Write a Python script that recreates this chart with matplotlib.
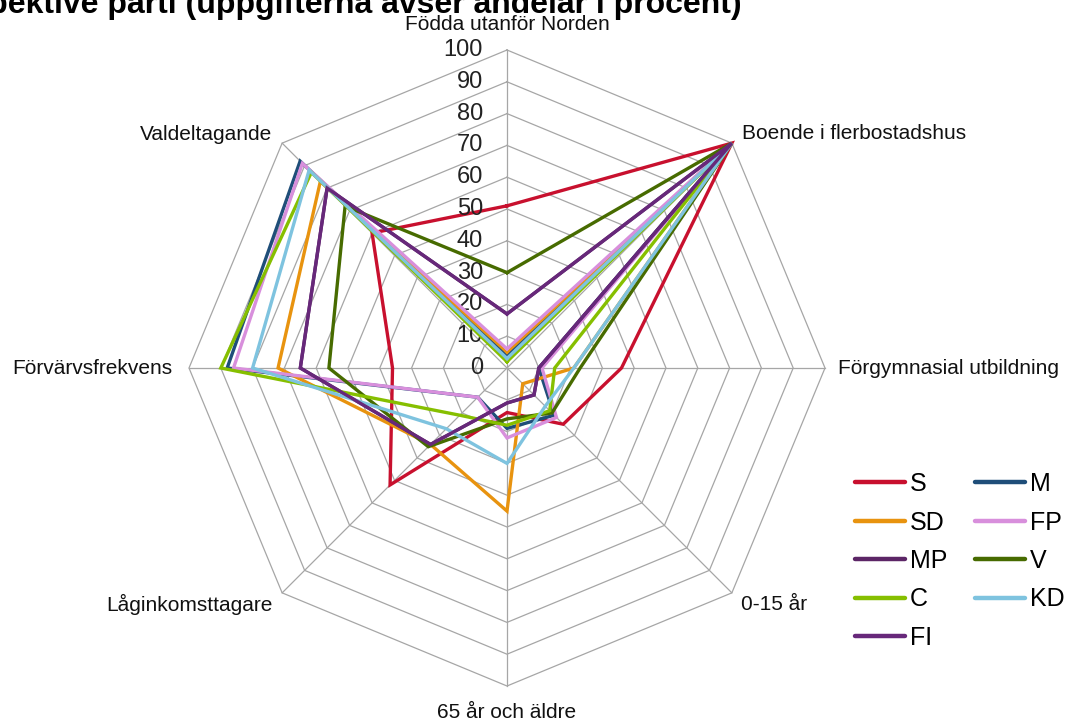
import numpy as np
import matplotlib
matplotlib.use("Agg")
import matplotlib.pyplot as plt
from matplotlib.lines import Line2D

plt.rcParams['font.family'] = ['Liberation Sans', 'DejaVu Sans']

# ---- data ----
categories = ["Födda utanför Norden", "Boende i flerbostadshus", "Förgymnasial utbildning",
              "0-15 år", "65 år och äldre", "Låginkomsttagare", "Förvärvsfrekvens", "Valdeltagande"]
ticks = [0, 10, 20, 30, 40, 50, 60, 70, 80, 90, 100]

S  = [51, 100, 36, 25, 14, 52, 36, 60]
M  = [4, 100, 10, 21, 19, 13, 88, 92]
SD = [5, 100, 21, 7, 45, 34, 72, 83]
FP = [6, 100, 11, 22, 22, 13, 86, 91]
MP = [17, 100, 10, 12, 11, 34, 65, 80]
V  = [30, 100, 23, 20, 16, 35, 56, 72]
C  = [2, 100, 15, 19, 18, 21, 90, 87]
KD = [3, 100, 21, 17, 30, 27, 80, 88]
FI = [17, 100, 10, 12, 11, 34, 65, 80]

series = [("S", S, "#c8102e"), ("M", M, "#1f4e79"), ("SD", SD, "#e8930f"),
          ("FP", FP, "#d88fdc"), ("MP", MP, "#5c2566"), ("V", V, "#476b00"),
          ("C", C, "#86bf00"), ("KD", KD, "#7ec3df"), ("FI", FI, "#67287a")]
legend_order = ["S", "SD", "MP", "C", "FI", "M", "FP", "V", "KD"]

title = "Väljarprofil för respektive parti (uppgifterna avser andelar i procent)"

# ---- figure ----
fig = plt.figure(figsize=(10.67, 7.22), dpi=100)
ax = fig.add_axes([189/1067, 36/722, 636/1067, 636/722], projection='polar')
ax.set_theta_zero_location('N')
ax.set_theta_direction(-1)
ax.set_ylim(0, 100)
ax.axis('off')

n = len(categories)
angles = np.arange(n) * 2 * np.pi / n
ang_c = np.append(angles, angles[0])

grid_col = "#a6a6a6"
for r in ticks[1:]:
    ax.plot(ang_c, [r] * (n + 1), color=grid_col, lw=0.9, zorder=1, clip_on=False)
for a in angles:
    ax.plot([a, a], [0, 100], color=grid_col, lw=0.9, zorder=1, clip_on=False)

handles = {}
for i, (name, vals, col) in enumerate(series):
    v = np.append(vals, vals[0])
    ax.plot(ang_c, v, color=col, lw=2.4, zorder=3 + i, clip_on=False,
            solid_joinstyle='miter')
    handles[name] = Line2D([], [], color=col, lw=3.2, solid_capstyle='round')

for t in ticks:
    ax.annotate(str(t), xy=(0, t), xytext=(-24, 0), textcoords='offset pixels',
                ha='right', va='center', fontsize=17, color='#222222',
                annotation_clip=False)

offsets = [(0, 26, 'center', 'center'), (10, 10, 'left', 'center'), (13, 0, 'left', 'center'),
           (9, -12, 'left', 'center'), (0, -27, 'center', 'center'), (-10, -12, 'right', 'center'),
           (-17, 0, 'right', 'center'), (-10, 9, 'right', 'center')]
for a, lab, (dx, dy, ha, va) in zip(angles, categories, offsets):
    ax.annotate(lab, xy=(a, 100), xytext=(dx, dy), textcoords='offset pixels',
                ha=ha, va=va, fontsize=15, color='#111111', annotation_clip=False)

fig.text(742/1067, 1 - 13/722, title, ha='right', va='baseline', fontsize=23,
         fontweight='bold', color='black')

leg = fig.legend([handles[k] for k in legend_order], legend_order, ncol=2,
                 loc='upper left', bbox_to_anchor=(855/1067, 1 - 472/722),
                 frameon=False, fontsize=18, handlelength=2.0, handletextpad=0.2,
                 labelspacing=0.58, columnspacing=1.1, borderpad=0, borderaxespad=0)

fig.savefig("out.png", dpi=100)
